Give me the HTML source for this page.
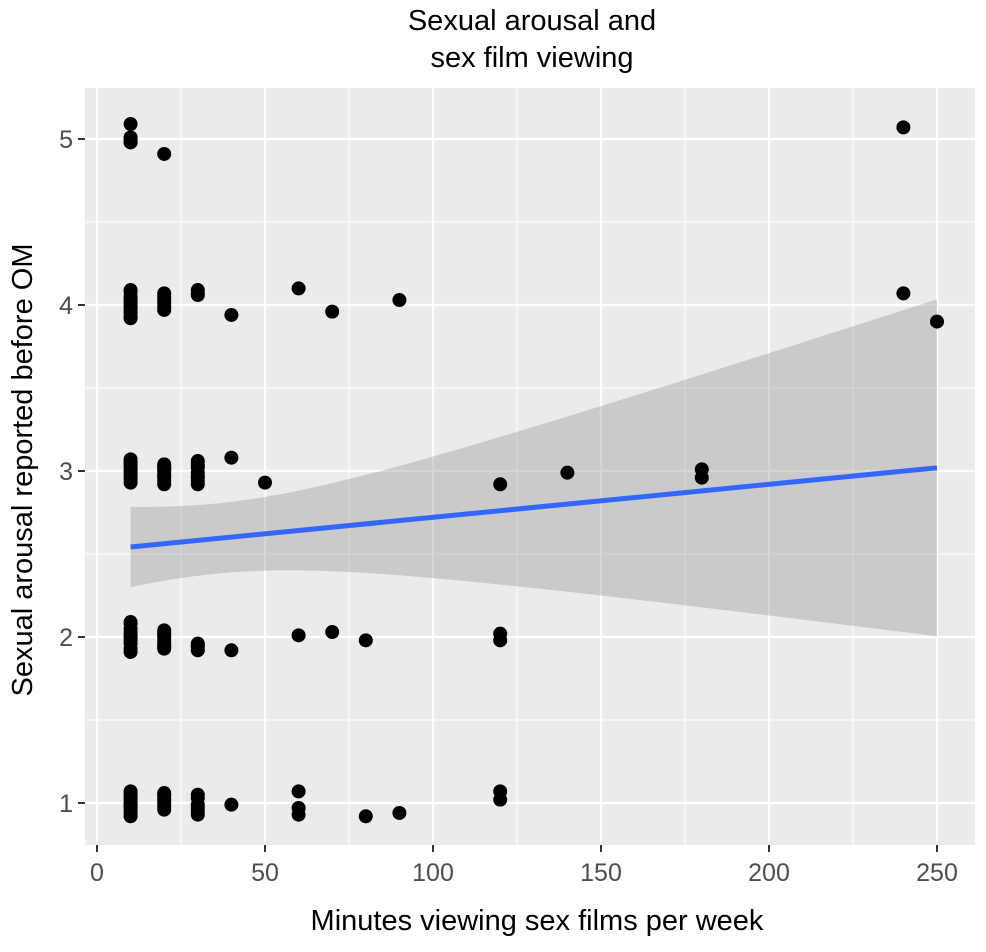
<!DOCTYPE html>
<html><head><meta charset="utf-8"><style>
body{margin:0;background:#fff;}
svg{font-family:"Liberation Sans",Arial,sans-serif;}
</style></head><body>
<svg id="chart" width="986" height="947">
<text x="532" y="30" text-anchor="middle" font-size="29">Sexual arousal and</text>
<text x="532" y="67" text-anchor="middle" font-size="29">sex film viewing</text>
<rect x="85" y="88" width="890" height="757" fill="#EBEBEB"/>
<g id="grid"></g><g id="band"></g><g id="pts"></g><g id="axes"></g>
<text x="537" y="930" text-anchor="middle" font-size="29">Minutes viewing sex films per week</text>
<text transform="translate(32,470) rotate(-90)" text-anchor="middle" font-size="29">Sexual arousal reported before OM</text>
</svg>
<script>
const xTicks=[0,50,100,150,200,250];
const yTicks=[1,2,3,4,5];
const xVals=[10,10,10,10,10,10,10,10,10,10,10,10,10,10,10,10,10,10,10,10,10,10,10,10,
20,20,20,20,20,20,20,20,20,20,20,20,20,20,20,20,20,
30,30,30,30,30,30,30,30,30,30,30,
10,10,10,10,10,10,10,10,10,10,10,10,10,10,10,10,10,10,10,10,10,10,10,10,
20,20,20,20,20,20,20,20,20,20,20,20,20,20,20,20,20,
30,30,30,30,30,30,30,30,30,30,30,
40,40,40,40,50,60,60,60,60,60,70,70,80,80,90,90,
120,120,120,120,120,140,180,180,240,240,250];
const yVals=[5.09,5.0,4.98,4.09,4.05,4.02,3.98,3.95,3.92,3.07,3.04,3.0,2.97,2.93,2.09,2.05,2.0,1.96,1.91,1.07,1.02,0.98,0.95,0.92,
4.91,4.07,4.03,3.97,3.03,3.0,2.96,2.92,2.04,2.0,1.96,1.93,1.06,1.04,0.96,1.0,2.02,
4.09,4.06,3.06,3.02,2.97,2.92,1.96,1.92,1.05,0.99,0.93,
4.98,5.01,4.08,4.01,3.96,3.93,4.04,3.99,3.05,3.02,2.95,2.99,3.06,2.08,2.03,1.98,1.93,2.01,1.05,1.0,0.97,0.93,1.04,0.99,
4.05,3.99,4.01,3.02,2.98,2.94,3.01,2.03,1.98,1.95,2.01,1.05,0.98,1.02,2.97,3.04,1.94,
4.07,3.04,2.99,2.94,3.03,1.95,1.94,1.03,0.97,0.95,2.96,
3.94,3.08,1.92,0.99,2.93,4.1,2.01,1.07,0.97,0.93,3.96,2.03,1.98,0.92,4.03,0.94,
2.92,2.02,1.98,1.07,1.02,2.99,3.01,2.96,5.07,4.07,3.9];
const NS="http://www.w3.org/2000/svg";
const X=v=>97+v*3.36, Y=v=>803-(v-1)*166;
function mk(p,t,a){const e=document.createElementNS(NS,t);for(const k in a)e.setAttribute(k,a[k]);p.appendChild(e);return e;}
const grid=document.getElementById('grid'),axes=document.getElementById('axes');
for(let i=0;i<xTicks.length;i++){
 const v=xTicks[i];
 const m=v+25;const l=mk(grid,'line',{x1:X(m),x2:X(m),y1:88,y2:845,stroke:'#fff','stroke-width':1});
 
 
 const g=mk(grid,'line',{x1:X(v),x2:X(v),y1:88,y2:845,stroke:'#fff','stroke-width':2.2});
 
 
 mk(axes,'line',{x1:X(v),x2:X(v),y1:845,y2:852,stroke:'#333','stroke-width':2});
 const t=mk(axes,'text',{x:X(v),y:881,'text-anchor':'middle','font-size':25,fill:'#4D4D4D'});t.textContent=v;
 
 
}
for(let i=0;i<yTicks.length;i++){
 const v=yTicks[i];
 if(i<yTicks.length-1){const m=v+0.5;const l=mk(grid,'line',{x1:85,x2:975,y1:Y(m),y2:Y(m),stroke:'#fff','stroke-width':1});
 
 }
 const g=mk(grid,'line',{x1:85,x2:975,y1:Y(v),y2:Y(v),stroke:'#fff','stroke-width':2.2});
 
 
 mk(axes,'line',{x1:78,x2:85,y1:Y(v),y2:Y(v),stroke:'#333','stroke-width':2});
 const t=mk(axes,'text',{x:73,y:Y(v)+9,'text-anchor':'end','font-size':25,fill:'#4D4D4D'});t.textContent=v;
 
 
}
const n=xVals.length;let mx=0,my=0;for(let i=0;i<n;i++){mx+=xVals[i];my+=yVals[i];}mx/=n;my/=n;
let sxx=0,sxy=0;for(let i=0;i<n;i++){sxx+=(xVals[i]-mx)**2;sxy+=(xVals[i]-mx)*(yVals[i]-my);}
const b=sxy/sxx,a=my-b*mx;let sse=0;for(let i=0;i<n;i++)sse+=(yVals[i]-a-b*xVals[i])**2;
const s=Math.sqrt(sse/(n-2)),tq=1.98;
const xmin=Math.min(...xVals),xmax=Math.max(...xVals);
let up=[],lo=[];
for(let k=0;k<=80;k++){const x=xmin+(xmax-xmin)*k/80;const f=a+b*x;const se=s*Math.sqrt(1/n+(x-mx)**2/sxx);
 up.push(X(x)+','+Y(f+tq*se));lo.unshift(X(x)+','+Y(f-tq*se));}
const band=document.getElementById('band');
const poly=mk(band,'polygon',{points:up.concat(lo).join(' '),fill:'#999999','fill-opacity':0.4});


const pts=document.getElementById('pts');
for(let i=0;i<n;i++){const c=mk(pts,'circle',{cx:X(xVals[i]),cy:Y(yVals[i]),r:7,fill:'#000'});
 
 }
const ln=mk(pts,'line',{x1:X(xmin),y1:Y(a+b*xmin),x2:X(xmax),y2:Y(a+b*xmax),stroke:'#3366FF','stroke-width':5});


</script>
</body></html>
